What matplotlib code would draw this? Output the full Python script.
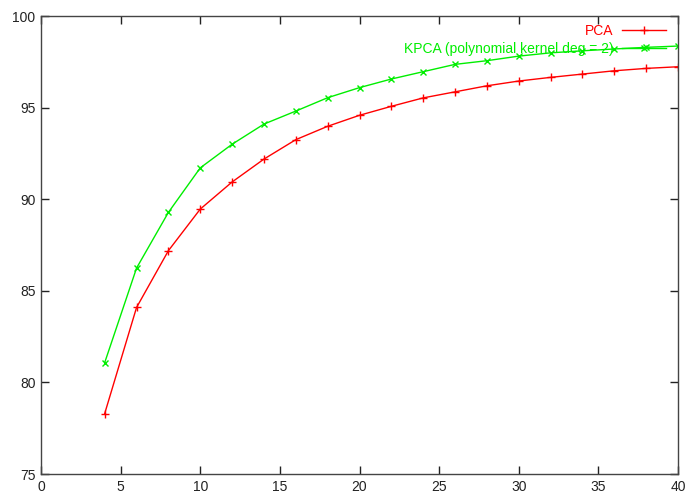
import matplotlib
matplotlib.use("Agg")
import matplotlib.pyplot as plt

# number of components
components = [4, 6, 8, 10, 12, 14, 16, 18, 20, 22, 24, 26, 28, 30, 32, 34, 36, 38, 40]

pca = [78.3, 84.09, 87.19, 89.46, 90.94, 92.19, 93.25, 93.98, 94.58, 95.07,
       95.53, 95.86, 96.19, 96.45, 96.65, 96.83, 97.01, 97.14, 97.23]
kpca = [81.08, 86.24, 89.28, 91.71, 93.0, 94.1, 94.81, 95.54, 96.09, 96.56,
        96.96, 97.36, 97.56, 97.81, 97.99, 98.1, 98.2, 98.29, 98.36]

xticks = [0, 5, 10, 15, 20, 25, 30, 35, 40]
yticks = [75, 80, 85, 90, 95, 100]

plt.rcParams['font.family'] = ['Liberation Sans', 'DejaVu Sans']
plt.rcParams['font.size'] = 10

fig = plt.figure(figsize=(6.87, 4.95), dpi=100)
ax = fig.add_axes([41 / 687, 21 / 495, 637 / 687, 458 / 495])

ax.plot(components, pca, color='#ff0000', lw=1, marker='+', ms=6, mew=1, label='PCA')
ax.plot(components, kpca, color='#00ee00', lw=1, marker='x', ms=5, mew=1,
        label='KPCA (polynomial kernel deg = 2)')

ax.set_xlim(0, 40)
ax.set_ylim(75, 100)
ax.set_xticks(xticks)
ax.set_yticks(yticks)
ax.tick_params(direction='in', length=6, width=1, top=True, right=True,
               labelsize=10, colors='#222222', pad=4)
for sp in ax.spines.values():
    sp.set_color('#444444')
    sp.set_linewidth(1)

leg = ax.legend(loc='upper right', bbox_to_anchor=(0.995, 1.0), frameon=False,
                markerfirst=False, handlelength=3.2, handletextpad=0.6,
                labelspacing=0.25, borderaxespad=0.2, labelcolor='linecolor',
                fontsize=10)

fig.savefig('out.png', dpi=100)
plt.close(fig)
